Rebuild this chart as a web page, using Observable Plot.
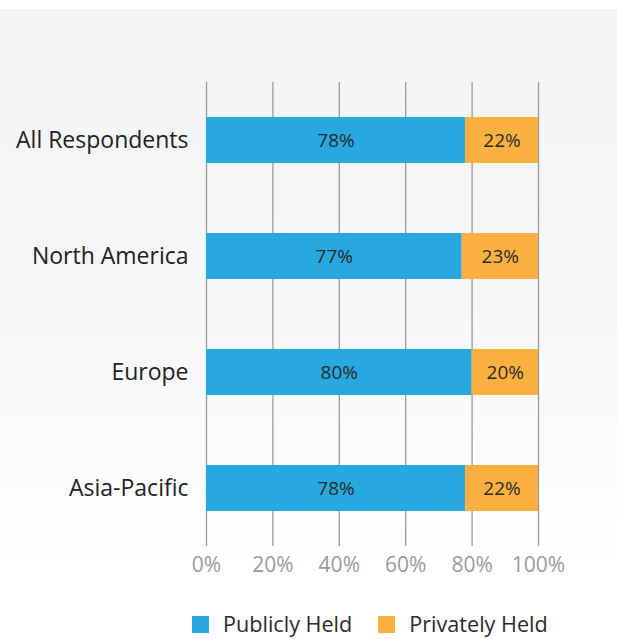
<!DOCTYPE html>
<html>
<head>
<meta charset="utf-8">
<script src="https://cdn.jsdelivr.net/npm/d3@7"></script>
<script src="https://cdn.jsdelivr.net/npm/@observablehq/plot@0.6"></script>
<style>
  html, body { margin: 0; padding: 0; background: #ffffff; }
  body { width: 625px; height: 639px; position: relative; overflow: hidden; font-family: "Open Sans", "Noto Sans", sans-serif; }
  #panel { position: absolute; left: 0; top: 9px; width: 617px; height: 560px;
    background: linear-gradient(to bottom, #f3f4f5 0%, #f6f7f8 55%, #ffffff 100%); }
  #chart { position: absolute; left: 0; top: 0; }
  #legend { position: absolute; left: 192px; top: 609px; display: flex; align-items: center; font-size: 21.6px; color: #2b2b2b; line-height: 30px; }
  #legend .item { display: flex; align-items: center; margin-right: 26px; }
  #legend .sw { width: 17px; height: 17px; margin-right: 14px; }
</style>
</head>
<body>
<div id="panel"></div>
<div id="chart"></div>
<div id="legend"></div>
<script>
const categories = ["All Respondents", "North America", "Europe", "Asia-Pacific"];
const publiclyHeld = [78, 77, 80, 78];
const privatelyHeld = [22, 23, 20, 22];
const seriesNames = ["Publicly Held", "Privately Held"];
const seriesColors = ["#27a8e0", "#fbb040"];
const xTicks = [0, 20, 40, 60, 80, 100];

const data = [];
categories.forEach((c, i) => {
  data.push({category: c, series: seriesNames[0], value: publiclyHeld[i]});
  data.push({category: c, series: seriesNames[1], value: privatelyHeld[i]});
});

const chart = Plot.plot({
  width: 625,
  height: 589,
  marginLeft: 206,
  marginRight: 87,
  marginTop: 82,
  marginBottom: 43,
  style: {background: "transparent", fontFamily: "'Open Sans', 'Noto Sans', sans-serif"},
  x: {domain: [0, 100], ticks: xTicks, tickFormat: d => d + "%", tickSize: 0, tickPadding: 11, label: null},
  y: {domain: categories, paddingInner: 0.6, paddingOuter: 0.3, tickSize: 0, tickPadding: 18, label: null},
  color: {domain: seriesNames, range: seriesColors},
  marks: [
    Plot.ruleX(xTicks, {stroke: "#9a9a9a", strokeWidth: 1.3}),
    Plot.barX(data, Plot.stackX({y: "category", x: "value", fill: "series", order: seriesNames})),
    Plot.text(data, Plot.stackX({y: "category", x: "value", z: "series", order: seriesNames,
      text: d => d.value + "%", fill: "#2b2b2b", fontSize: 19})),
    Plot.axisX({ticks: xTicks, tickFormat: d => d + "%", tickSize: 0, tickPadding: 11, fontSize: 21, color: "#9a9a9a", label: null}),
    Plot.axisY({tickSize: 0, tickPadding: 18, fontSize: 23, color: "#222222", label: null})
  ]
});
document.getElementById("chart").appendChild(chart);

const legendEl = document.getElementById("legend");
seriesNames.forEach((name, i) => {
  const item = document.createElement("div");
  item.className = "item";
  const sw = document.createElement("span");
  sw.className = "sw";
  sw.style.background = seriesColors[i];
  const label = document.createElement("span");
  label.textContent = name;
  item.appendChild(sw);
  item.appendChild(label);
  legendEl.appendChild(item);
});
</script>
</body>
</html>
